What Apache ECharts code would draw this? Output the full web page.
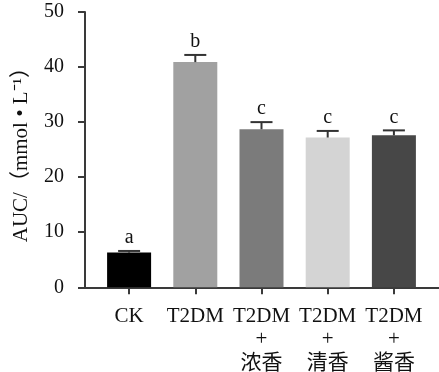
<!DOCTYPE html>
<html><head><meta charset="utf-8">
<script src="https://cdn.jsdelivr.net/npm/echarts@6/dist/echarts.min.js"></script>
<style>html,body{margin:0;padding:0;background:#fff}#c{width:439px;height:372px}</style>
</head><body><div id="c"></div>
<script>
const categories = ['CK', 'T2DM', 'T2DM\n+\n浓香', 'T2DM\n+\n清香', 'T2DM\n+\n酱香'];
const means = [6.3, 40.9, 28.7, 27.2, 27.6];
const errors = [0.3, 1.3, 1.3, 1.2, 0.9];
const letters = ['a', 'b', 'c', 'c', 'c'];
const barColors = ['#000000', '#a1a1a1', '#7b7b7b', '#d4d4d4', '#474747'];
const yTicks = { min: 0, max: 50, interval: 10 };

const FONT = '"Liberation Serif", "Times New Roman", "Noto Sans CJK SC", serif';
const AX = '#3a3a3a';
const chart = echarts.init(document.getElementById('c'), null, { renderer: 'canvas' });
const gTop = 12, gBottom = 84.7;
chart.setOption({
  animation: false,
  backgroundColor: '#fff',
  grid: [
    { left: 96, right: 12, top: gTop, bottom: gBottom, outerBoundsMode: 'none', containLabel: false },
    { left: 85, right: 0, top: gTop, bottom: gBottom, outerBoundsMode: 'none', containLabel: false }
  ],
  xAxis: [
    {
      type: 'category', gridIndex: 0, data: categories,
      axisLine: { show: false },
      axisTick: { show: true, alignWithLabel: true, length: 7, lineStyle: { color: AX, width: 2 } },
      axisLabel: { color: '#111', fontFamily: FONT, fontSize: 21, lineHeight: 23.5, margin: 17, interval: 0 }
    },
    {
      type: 'value', gridIndex: 1, min: 0, max: 1,
      axisLine: { show: true, lineStyle: { color: AX, width: 2 } },
      axisTick: { show: false }, axisLabel: { show: false }, splitLine: { show: false }
    }
  ],
  yAxis: [
    {
      type: 'value', gridIndex: 0, min: yTicks.min, max: yTicks.max, interval: yTicks.interval,
      offset: 11,
      axisLine: { show: true, lineStyle: { color: AX, width: 2 } },
      axisTick: { show: true, length: 7, lineStyle: { color: AX, width: 2 } },
      axisLabel: { color: '#111', fontFamily: FONT, fontSize: 20, margin: 21 },
      splitLine: { show: false },
      name: 'AUC/（mmol • L⁻¹）', nameLocation: 'middle', nameGap: 53, nameRotate: 90,
      nameTextStyle: { color: '#111', fontFamily: FONT, fontSize: 21 }
    },
    { type: 'value', gridIndex: 1, show: false, min: 0, max: 1 }
  ],
  series: [
    {
      type: 'bar', xAxisIndex: 0, yAxisIndex: 0, barWidth: 44,
      data: means.map((v, i) => ({ value: v, itemStyle: { color: barColors[i] } }))
    },
    {
      type: 'custom', xAxisIndex: 0, yAxisIndex: 0, z: 5,
      data: means.map((v, i) => [i, v, errors[i]]),
      renderItem: function (params, api) {
        const i = api.value(0), v = api.value(1), e = api.value(2);
        const p0 = api.coord([i, v]);
        const p1 = api.coord([i, v + e]);
        const hw = 11;
        return {
          type: 'group',
          children: [
            { type: 'line', shape: { x1: p0[0], y1: p0[1], x2: p1[0], y2: p1[1] }, style: { stroke: '#333', lineWidth: 2 } },
            { type: 'line', shape: { x1: p1[0] - hw, y1: p1[1], x2: p1[0] + hw, y2: p1[1] }, style: { stroke: '#333', lineWidth: 2 } },
            { type: 'text', style: { text: letters[params.dataIndex], x: p1[0], y: p1[1] - 3, align: 'center', verticalAlign: 'bottom', fontFamily: FONT, fontSize: 20, fill: '#111' } }
          ]
        };
      }
    }
  ]
});
</script></body></html>
